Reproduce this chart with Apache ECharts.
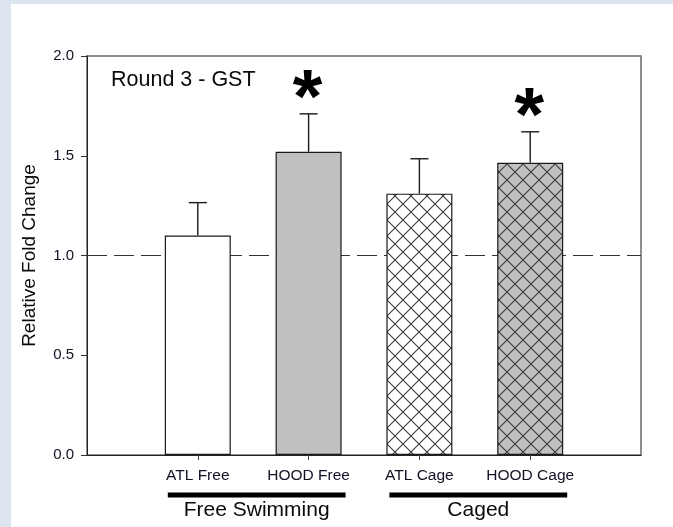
<!DOCTYPE html>
<html>
<head>
<meta charset="utf-8">
<script src="https://cdn.jsdelivr.net/npm/echarts@6/dist/echarts.min.js"></script>
<style>
  html, body { margin: 0; padding: 0; background: #dce5f0; }
  #frame { position: absolute; left: 0; top: 0; width: 673px; height: 527px; background: #dce5f0; overflow: hidden; }
  #chart { position: absolute; left: 11px; top: 4px; width: 662px; height: 523px; background: #ffffff; }
</style>
</head>
<body>
<div id="frame"><div id="chart"></div></div>
<script>
// Relative fold change of GST expression, round 3
const categories = ['ATL Free', 'HOOD Free', 'ATL Cage', 'HOOD Cage'];
const foldChange = [1.10, 1.52, 1.31, 1.465];
const stdError = [0.165, 0.19, 0.175, 0.155];
const significant = [false, true, false, true];
const yTicks = [0, 0.5, 1.0, 1.5, 2.0];
const referenceLevel = 1.0;
const groupNames = ['Free Swimming', 'Caged'];
const groupMembers = [['ATL Free', 'HOOD Free'], ['ATL Cage', 'HOOD Cage']];

const FONT = '"Liberation Sans", Arial, sans-serif';
const BAR_W = 66;

// cross-hatch fill drawn into a small repeating canvas tile
function hatch(bg) {
  const s = 16;
  const c = document.createElement('canvas');
  c.width = s; c.height = s;
  const g = c.getContext('2d');
  g.fillStyle = bg;
  g.fillRect(0, 0, s, s);
  g.strokeStyle = '#3a3a3a';
  g.lineWidth = 1.1;
  g.beginPath();
  for (const dx of [-s, 0, s]) {
    g.moveTo(dx, 0); g.lineTo(dx + s, s);
    g.moveTo(dx + s, 0); g.lineTo(dx, s);
  }
  g.stroke();
  return { image: c, repeat: 'repeat' };
}

const fills = [
  '#ffffff',
  '#c0c0c0',
  hatch('#ffffff'),
  hatch('#c0c0c0')
];

// pad the axis with an empty slot on each side so bars sit on ticks 1..4
const axisData = [''].concat(categories, ['']);

const chart = echarts.init(document.getElementById('chart'), null, { renderer: 'canvas' });

const option = {
  animation: false,
  backgroundColor: '#ffffff',
  title: {
    text: 'Round 3 - GST',
    left: 95,
    top: 60,
    textStyle: { fontFamily: FONT, fontSize: 21.5, fontWeight: 'normal', color: '#0a0a0a' }
  },
  grid: {
    left: 76, right: 32, top: 52, bottom: 72,
    containLabel: false,
    outerBoundsMode: 'none',
    show: true, borderColor: '#6a6a6a', borderWidth: 1.5, backgroundColor: 'transparent'
  },
  xAxis: {
    type: 'category',
    data: axisData,
    boundaryGap: false,
    axisLine: { show: true, lineStyle: { color: '#222', width: 1 } },
    axisTick: {
      show: true, inside: false, length: 5, alignWithLabel: true,
      interval: (i) => i > 0 && i < axisData.length - 1,
      lineStyle: { color: '#444' }
    },
    axisLabel: {
      interval: 0, margin: 13,
      fontFamily: FONT, fontSize: 15.5, color: '#121225'
    },
    splitLine: { show: false }
  },
  yAxis: {
    type: 'value',
    min: yTicks[0],
    max: yTicks[yTicks.length - 1],
    interval: yTicks[1] - yTicks[0],
    name: 'Relative Fold Change',
    nameLocation: 'middle',
    nameRotate: 90,
    nameGap: 48,
    nameTextStyle: { fontFamily: FONT, fontSize: 19, color: '#0a0a0a' },
    axisLine: { show: true, lineStyle: { color: '#222', width: 1 } },
    axisTick: { show: true, inside: false, length: 6, lineStyle: { color: '#333' } },
    axisLabel: {
      margin: 13, fontFamily: FONT, fontSize: 15, color: '#121225',
      formatter: (v) => v.toFixed(1)
    },
    splitLine: { show: false }
  },
  series: [
    {
      // dashed control level, kept underneath the bars
      type: 'line',
      z: 1,
      silent: true,
      symbol: 'none',
      data: axisData.map(() => referenceLevel),
      lineStyle: { color: '#333', width: 1, type: [20, 7] }
    },
    {
      type: 'bar',
      z: 2,
      barWidth: BAR_W,
      data: categories.map((c, i) => ({
        value: [c, foldChange[i]],
        itemStyle: { color: fills[i] }
      })),
      itemStyle: { borderColor: '#1a1a1a', borderWidth: 1.2 }
    },
    {
      // upper standard-error whiskers with significance markers
      type: 'custom',
      z: 3,
      silent: true,
      data: categories.map((c, i) => [c, foldChange[i], foldChange[i] + stdError[i], significant[i] ? 1 : 0]),
      encode: { x: 0, y: [1, 2] },
      renderItem: function (params, api) {
        const base = api.coord([api.value(0), api.value(1)]);
        const top = api.coord([api.value(0), api.value(2)]);
        const half = 9;
        const st = { stroke: '#1a1a1a', lineWidth: 1.4 };
        const children = [
          { type: 'line', shape: { x1: base[0], y1: base[1], x2: top[0], y2: top[1] }, style: st },
          { type: 'line', shape: { x1: top[0] - half, y1: top[1], x2: top[0] + half, y2: top[1] }, style: st }
        ];
        if (api.value(3)) {
          children.push({
            type: 'text',
            x: top[0] - 1,
            y: top[1] - 13,
            style: {
              text: '*', fill: '#000',
              font: 'bold 76px ' + FONT,
              align: 'center', verticalAlign: 'middle'
            }
          });
        }
        return { type: 'group', children: children };
      }
    }
  ]
};

chart.setOption(option);

// treatment group brackets beneath the category labels
const graphics = [];
groupNames.forEach((name, g) => {
  const xs = groupMembers[g].map((c) => chart.convertToPixel({ xAxisIndex: 0 }, c));
  const x0 = Math.min.apply(null, xs) - BAR_W / 2 + 3;
  const x1 = Math.max.apply(null, xs) + BAR_W / 2 + 4;
  const yAxisBottom = chart.convertToPixel({ yAxisIndex: 0 }, yTicks[0]);
  graphics.push({
    type: 'rect',
    shape: { x: x0, y: yAxisBottom + 37.5, width: x1 - x0, height: 5 },
    style: { fill: '#000' }
  });
  graphics.push({
    type: 'text',
    x: (x0 + x1) / 2,
    y: yAxisBottom + 55,
    style: {
      text: name, fill: '#0a0a0a',
      font: '21px ' + FONT,
      align: 'center', verticalAlign: 'middle'
    }
  });
});
chart.setOption({ graphic: graphics });
</script>
</body>
</html>
